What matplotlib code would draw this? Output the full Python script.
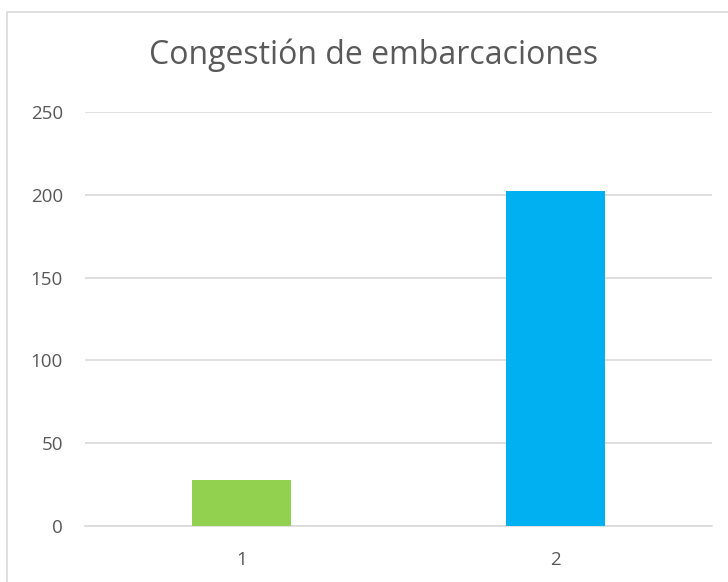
import matplotlib
matplotlib.use("Agg")
import matplotlib.pyplot as plt
from matplotlib.patches import Rectangle

categories = ["1", "2"]
values = [28, 202]
colors = ["#92D050", "#00B0F0"]
yticks = [0, 50, 100, 150, 200, 250]
title = "Congestión de embarcaciones"

W, H = 728, 582
fig = plt.figure(figsize=(W / 100, H / 100), dpi=100)
plt.rcParams['font.family'] = ['Open Sans', 'DejaVu Sans']

# outer chart border (cropped at right/bottom)
fig.patches.append(Rectangle((7 / W, -0.1), 1.2, 1 - 12 / H + 0.1, transform=fig.transFigure,
                             fill=False, edgecolor="#D9D9D9", linewidth=1.2))

ax = fig.add_axes([85 / W, 1 - 526 / H, (712 - 85) / W, (526 - 112) / H])
x = list(range(1, len(categories) + 1))
ax.bar(x, values, width=0.317, color=colors, zorder=3)
ax.set_xlim(0.5, len(categories) + 0.5)
ax.set_ylim(0, 250)
ax.set_yticks(yticks)
ax.set_xticks(x)
ax.set_xticklabels(categories)
ax.grid(axis="y", color="#D9D9D9", linewidth=1.2, zorder=0)
for s in ["top", "right", "left"]:
    ax.spines[s].set_visible(False)
ax.spines["bottom"].set_color("#D9D9D9")
ax.spines["bottom"].set_linewidth(1.2)
ax.tick_params(axis="both", length=0, labelsize=13.5, labelcolor="#595959")
ax.tick_params(axis="y", pad=16)
ax.tick_params(axis="x", pad=18)
ax.set_facecolor("none")

fig.text(374 / W, 1 - 55 / H, title, ha="center", va="center", fontsize=23, color="#595959")

fig.savefig("out.png", dpi=100)
